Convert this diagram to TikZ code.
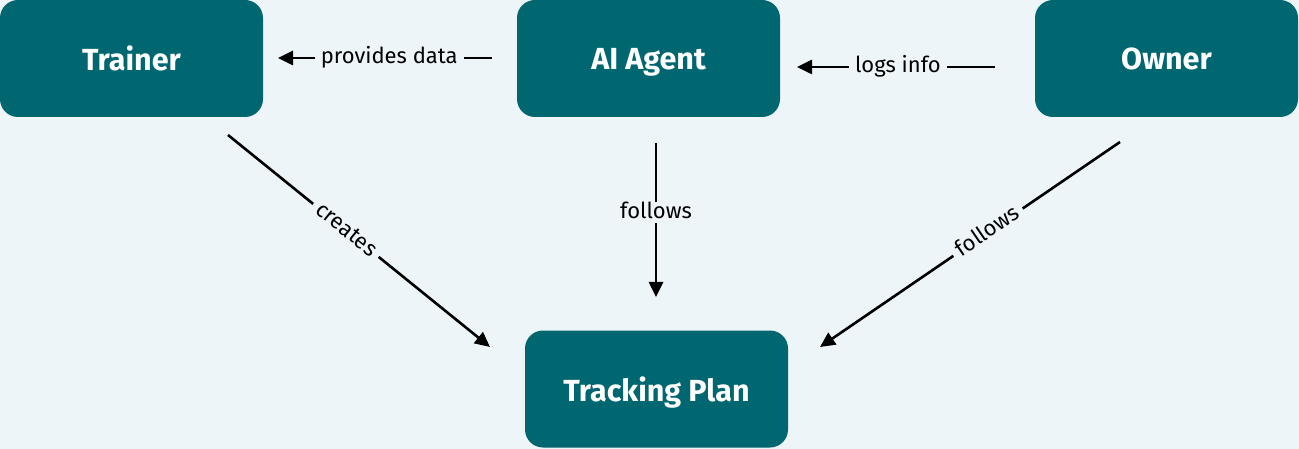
\documentclass[tikz,border=0pt]{standalone}
\usepackage{fontspec}
\setmainfont{Fira Sans}
\usetikzlibrary{arrows.meta}
\definecolor{teal1}{HTML}{00666F}
\definecolor{bgc}{HTML}{EEF5F8}
\tikzset{
  box/.style={fill=teal1, rounded corners=18pt, minimum width=263pt, minimum height=117pt, inner sep=0pt, text=white, text depth=0pt, font=\fontsize{30.5}{33}\selectfont\bfseries},
  conn/.style={line width=2.6pt, -{Triangle[length=15pt,width=14pt]}},
  lbl/.style={fill=bgc, inner xsep=6pt, inner ysep=0pt, text height=16.5pt, text depth=5pt, text=black, font=\fontsize{22}{25}\selectfont}
}
\begin{document}
\begin{tikzpicture}[x=1pt,y=-1pt]
\fill[bgc] (0,0) rectangle (1299,449);
\useasboundingbox (0,0) rectangle (1299,449);
\node[box] (trainer) at (131.5,58.5) {Trainer};
\node[box] (agent) at (648.5,58.5) {AI Agent};
\node[box] (owner) at (1166.5,58.5) {Owner};
\node[box] (plan) at (656.5,389) {Tracking Plan};
\coordinate (a1) at (492,58);
\coordinate (a2) at (278,58);
\coordinate (b1) at (995,67);
\coordinate (b2) at (797,67);
\coordinate (c1) at (656,143);
\coordinate (c2) at (656,297);
\coordinate (d1) at (228,135);
\coordinate (d2) at (490,347);
\coordinate (e1) at (1120,142);
\coordinate (e2) at (820,347);
\draw[conn] (a1) -- node[lbl, pos=0.48] {provides data} (a2);
\draw[conn] (b1) -- node[lbl, pos=0.49] {logs info} (b2);
\draw[conn] (c1) -- node[lbl, pos=0.45] {follows} (c2);
\draw[conn] (d1) -- node[lbl, pos=0.45, sloped] {creates} (d2);
\draw[conn] (e1) -- node[lbl, pos=0.44, sloped] {follows} (e2);
\end{tikzpicture}
\end{document}
